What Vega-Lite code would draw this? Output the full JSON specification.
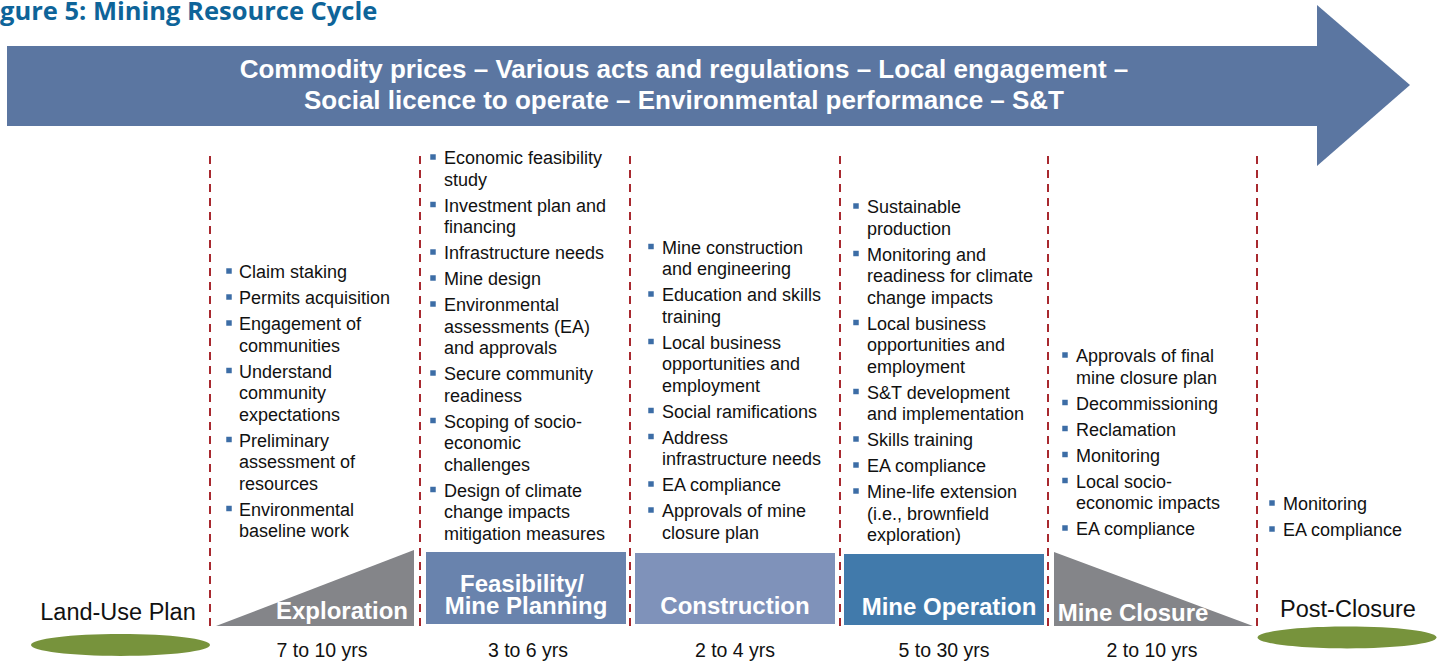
{
"$schema":"https://vega.github.io/schema/vega-lite/v6.json",
"width":1446,"height":665,
"autosize":{"type":"fit","contains":"padding"},
"padding":0,
"background":"white",
"config":{"view":{"stroke":null}},
"datasets":{
"title":[{"x":0,"y":20,"t":"gure 5: Mining Resource Cycle"}],
"arrowBody":[{"x":7,"x2":1318,"y":46,"y2":126}],
"arrowHead":[{"x":1317,"y":5,"y2":166},{"x":1410,"y":85,"y2":85}],
"arrowText":[{"x":684,"y":78,"t":"Commodity prices – Various acts and regulations – Local engagement –"},{"x":684,"y":109,"t":"Social licence to operate – Environmental performance – S&T"}],
"dashes":[{"x":210,"y":156,"y2":627},{"x":420,"y":156,"y2":627},{"x":630,"y":156,"y2":627},{"x":840,"y":156,"y2":627},{"x":1048,"y":156,"y2":627},{"x":1257,"y":156,"y2":627}],
"dots":[
{"x":229,"y":271},{"x":229,"y":297},{"x":229,"y":323},{"x":229,"y":370.5},{"x":229,"y":439.5},{"x":229,"y":508.5},
{"x":433,"y":157},{"x":433,"y":204.5},{"x":433,"y":252},{"x":433,"y":278},{"x":433,"y":304},{"x":433,"y":373},{"x":433,"y":420.5},{"x":433,"y":489.5},
{"x":651,"y":246.5},{"x":651,"y":294},{"x":651,"y":341.5},{"x":651,"y":410.5},{"x":651,"y":436.5},{"x":651,"y":484},{"x":651,"y":510},
{"x":856,"y":206},{"x":856,"y":253.5},{"x":856,"y":322.5},{"x":856,"y":391.5},{"x":856,"y":439},{"x":856,"y":465},{"x":856,"y":491},
{"x":1065,"y":355},{"x":1065,"y":402.5},{"x":1065,"y":428.5},{"x":1065,"y":454.5},{"x":1065,"y":480.5},{"x":1065,"y":528},
{"x":1272,"y":503},{"x":1272,"y":529}
],
"items":[
{"x":239,"y":278,"t":"Claim staking"},
{"x":239,"y":304,"t":"Permits acquisition"},
{"x":239,"y":330,"t":"Engagement of"},
{"x":239,"y":351.5,"t":"communities"},
{"x":239,"y":377.5,"t":"Understand"},
{"x":239,"y":399,"t":"community"},
{"x":239,"y":420.5,"t":"expectations"},
{"x":239,"y":446.5,"t":"Preliminary"},
{"x":239,"y":468,"t":"assessment of"},
{"x":239,"y":489.5,"t":"resources"},
{"x":239,"y":515.5,"t":"Environmental"},
{"x":239,"y":537,"t":"baseline work"},
{"x":444,"y":164,"t":"Economic feasibility"},
{"x":444,"y":185.5,"t":"study"},
{"x":444,"y":211.5,"t":"Investment plan and"},
{"x":444,"y":233,"t":"financing"},
{"x":444,"y":259,"t":"Infrastructure needs"},
{"x":444,"y":285,"t":"Mine design"},
{"x":444,"y":311,"t":"Environmental"},
{"x":444,"y":332.5,"t":"assessments (EA)"},
{"x":444,"y":354,"t":"and approvals"},
{"x":444,"y":380,"t":"Secure community"},
{"x":444,"y":401.5,"t":"readiness"},
{"x":444,"y":427.5,"t":"Scoping of socio-"},
{"x":444,"y":449,"t":"economic"},
{"x":444,"y":470.5,"t":"challenges"},
{"x":444,"y":496.5,"t":"Design of climate"},
{"x":444,"y":518,"t":"change impacts"},
{"x":444,"y":539.5,"t":"mitigation measures"},
{"x":662,"y":253.5,"t":"Mine construction"},
{"x":662,"y":275,"t":"and engineering"},
{"x":662,"y":301,"t":"Education and skills"},
{"x":662,"y":322.5,"t":"training"},
{"x":662,"y":348.5,"t":"Local business"},
{"x":662,"y":370,"t":"opportunities and"},
{"x":662,"y":391.5,"t":"employment"},
{"x":662,"y":417.5,"t":"Social ramifications"},
{"x":662,"y":443.5,"t":"Address"},
{"x":662,"y":465,"t":"infrastructure needs"},
{"x":662,"y":491,"t":"EA compliance"},
{"x":662,"y":517,"t":"Approvals of mine"},
{"x":662,"y":538.5,"t":"closure plan"},
{"x":867,"y":213,"t":"Sustainable"},
{"x":867,"y":234.5,"t":"production"},
{"x":867,"y":260.5,"t":"Monitoring and"},
{"x":867,"y":282,"t":"readiness for climate"},
{"x":867,"y":303.5,"t":"change impacts"},
{"x":867,"y":329.5,"t":"Local business"},
{"x":867,"y":351,"t":"opportunities and"},
{"x":867,"y":372.5,"t":"employment"},
{"x":867,"y":398.5,"t":"S&T development"},
{"x":867,"y":420,"t":"and implementation"},
{"x":867,"y":446,"t":"Skills training"},
{"x":867,"y":472,"t":"EA compliance"},
{"x":867,"y":498,"t":"Mine-life extension"},
{"x":867,"y":519.5,"t":"(i.e., brownfield"},
{"x":867,"y":541,"t":"exploration)"},
{"x":1076,"y":362,"t":"Approvals of final"},
{"x":1076,"y":383.5,"t":"mine closure plan"},
{"x":1076,"y":409.5,"t":"Decommissioning"},
{"x":1076,"y":435.5,"t":"Reclamation"},
{"x":1076,"y":461.5,"t":"Monitoring"},
{"x":1076,"y":487.5,"t":"Local socio-"},
{"x":1076,"y":509,"t":"economic impacts"},
{"x":1076,"y":535,"t":"EA compliance"},
{"x":1283,"y":510,"t":"Monitoring"},
{"x":1283,"y":536,"t":"EA compliance"}
],
"phases":[
{"p":"Feasibility","x":426,"x2":626,"y":552,"y2":624},
{"p":"Construction","x":635,"x2":835,"y":553,"y2":624},
{"p":"Operation","x":844,"x2":1044,"y":554,"y2":625}
],
"triUp":[{"x":216,"y":626,"y2":626},{"x":414,"y":550,"y2":626}],
"triDown":[{"x":1054,"y":552,"y2":626},{"x":1253,"y":626,"y2":626}],
"phaseLabels":[
{"x":342,"y":619,"t":"Exploration"},
{"x":522,"y":592,"t":"Feasibility/"},
{"x":526,"y":614,"t":"Mine Planning"},
{"x":735,"y":614,"t":"Construction"},
{"x":949,"y":615,"t":"Mine Operation"},
{"x":1133,"y":621,"t":"Mine Closure"}
],
"years":[
{"x":322,"y":657,"t":"7 to 10 yrs"},
{"x":528,"y":657,"t":"3 to 6 yrs"},
{"x":735,"y":657,"t":"2 to 4 yrs"},
{"x":944,"y":657,"t":"5 to 30 yrs"},
{"x":1152,"y":657,"t":"2 to 10 yrs"}
],
"ellipses":[{"x":120.5,"y":645},{"x":1347,"y":637.5}],
"ends":[{"x":118,"y":620,"t":"Land-Use Plan"},{"x":1348,"y":617,"t":"Post-Closure"}]
},
"encoding":{
"x":{"field":"x","type":"quantitative","scale":{"domain":[0,1446],"nice":false,"zero":false},"axis":null},
"y":{"field":"y","type":"quantitative","scale":{"domain":[0,665],"nice":false,"zero":false,"reverse":true},"axis":null}
},
"layer":[
{"data":{"name":"title"},"mark":{"type":"text","align":"left","baseline":"alphabetic","font":"Open Sans","fontWeight":"bold","fontSize":25.5,"color":"#0E6499"},"encoding":{"text":{"field":"t"}}},
{"data":{"name":"arrowBody"},"mark":{"type":"rect","color":"#5B76A1"},"encoding":{"x2":{"field":"x2"},"y2":{"field":"y2"}}},
{"data":{"name":"arrowHead"},"mark":{"type":"area","color":"#5B76A1","opacity":1},"encoding":{"y2":{"field":"y2"}}},
{"data":{"name":"arrowText"},"mark":{"type":"text","align":"center","baseline":"alphabetic","font":"Liberation Sans","fontWeight":"bold","fontSize":26,"color":"white"},"encoding":{"text":{"field":"t"}}},
{"data":{"name":"dashes"},"mark":{"type":"rule","strokeDash":[8,6],"strokeWidth":2,"color":"#A8292F"},"encoding":{"y2":{"field":"y2"}}},
{"data":{"name":"dots"},"mark":{"type":"point","shape":"square","filled":true,"size":30,"color":"#3C6DA6","opacity":1,"strokeWidth":0}},
{"data":{"name":"items"},"mark":{"type":"text","align":"left","baseline":"alphabetic","font":"Liberation Sans","fontSize":18,"color":"#111111"},"encoding":{"text":{"field":"t"}}},
{"data":{"name":"phases"},"mark":{"type":"rect","opacity":1},"encoding":{"x2":{"field":"x2"},"y2":{"field":"y2"},"color":{"field":"p","type":"nominal","scale":{"domain":["Feasibility","Construction","Operation"],"range":["#6983AD","#7F92BA","#417AAB"]},"legend":null}}},
{"data":{"name":"triUp"},"mark":{"type":"area","color":"#848589","opacity":1},"encoding":{"y2":{"field":"y2"}}},
{"data":{"name":"triDown"},"mark":{"type":"area","color":"#848589","opacity":1},"encoding":{"y2":{"field":"y2"}}},
{"data":{"name":"phaseLabels"},"mark":{"type":"text","align":"center","baseline":"alphabetic","font":"Liberation Sans","fontWeight":"bold","fontSize":24,"color":"white"},"encoding":{"text":{"field":"t"}}},
{"data":{"name":"years"},"mark":{"type":"text","align":"center","baseline":"alphabetic","font":"Liberation Sans","fontSize":19.5,"color":"#111111"},"encoding":{"text":{"field":"t"}}},
{"data":{"name":"ellipses"},"mark":{"type":"point","shape":"M -1 0 A 1 0.122 0 1 1 1 0 A 1 0.122 0 1 1 -1 0 Z","size":32041,"filled":true,"color":"#77933C","opacity":1,"strokeWidth":0}},
{"data":{"name":"ends"},"mark":{"type":"text","align":"center","baseline":"alphabetic","font":"Liberation Sans","fontSize":23.5,"color":"#111111"},"encoding":{"text":{"field":"t"}}}
]
}
